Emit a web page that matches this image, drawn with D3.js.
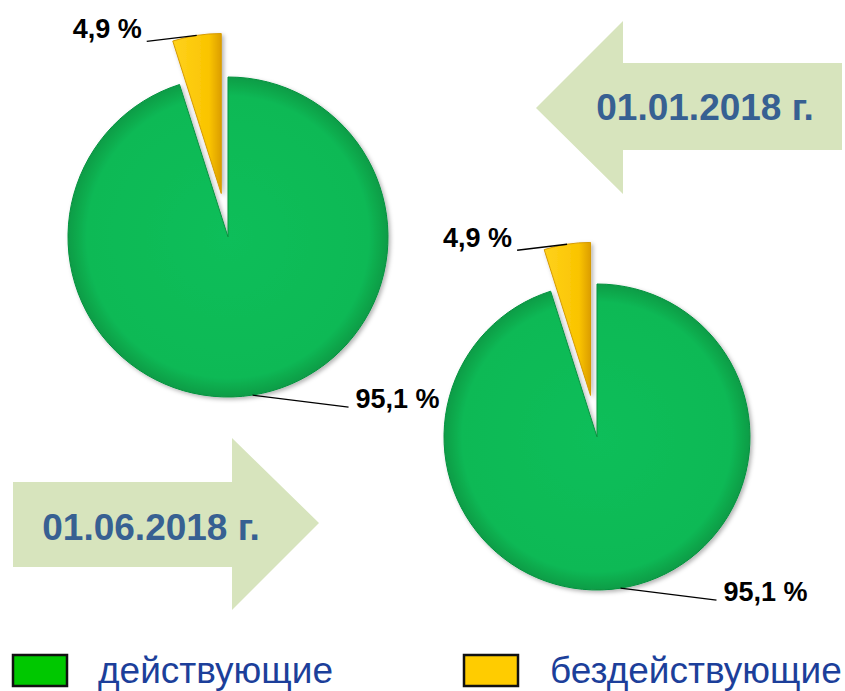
<!DOCTYPE html>
<html>
<head>
<meta charset="utf-8">
<script src="https://cdn.jsdelivr.net/npm/d3@7"></script>
<style>
  body { margin: 0; background: #fff; }
  svg { display: block; font-family: "Liberation Sans", Arial, sans-serif; }
</style>
</head>
<body>
<div id="chart"></div>
<script>
// data
var dates = ["01.01.2018 г.", "01.06.2018 г."];
var categories = ["действующие", "бездействующие"];
var shareJan = [95.1, 4.9];
var shareJun = [95.1, 4.9];

var width = 845,
  height = 691;

var pieColors = ["url(#greenGrad)", "url(#yellowGrad)"];
var legendColors = ["#00c800", "#ffcc00"];
var edgeColors = ["#07923f", "#d69a00"];

// layout of both pies
var pies = [
  {values: shareJan, cx: 228, cy: 237, r: 160},
  {values: shareJun, cx: 597, cy: 437, r: 153}
];

var ru = d3.formatLocale({decimal: ",", thousands: " ", grouping: [3], currency: ["", " ₽"]});
var fmt = ru.format(".1f");

var svg = d3.select("#chart").append("svg")
    .attr("width", width)
    .attr("height", height);

var defs = svg.append("defs");

var gGreen = defs.append("radialGradient")
    .attr("id", "greenGrad")
    .attr("cx", "50%").attr("cy", "50%").attr("r", "50%");
gGreen.append("stop").attr("offset", "0%").attr("stop-color", "#10be5a");
gGreen.append("stop").attr("offset", "88%").attr("stop-color", "#0cb955");
gGreen.append("stop").attr("offset", "100%").attr("stop-color", "#089c46");

var gYellow = defs.append("linearGradient")
    .attr("id", "yellowGrad")
    .attr("x1", "0%").attr("x2", "100%").attr("y1", "0%").attr("y2", "0%");
gYellow.append("stop").attr("offset", "0%").attr("stop-color", "#ffd21c");
gYellow.append("stop").attr("offset", "75%").attr("stop-color", "#fac400");
gYellow.append("stop").attr("offset", "100%").attr("stop-color", "#dc9e00");

var shadow = defs.append("filter").attr("id", "shadow")
    .attr("x", "-20%").attr("y", "-20%").attr("width", "140%").attr("height", "140%");
shadow.append("feDropShadow")
    .attr("dx", 2).attr("dy", 2).attr("stdDeviation", 2)
    .attr("flood-color", "#000").attr("flood-opacity", 0.3);

// arrows (background shapes)
var arrowFill = "#d7e4bd";
svg.append("path")
    .attr("d", "M536,108 L623,21 L623,63 L842,63 L842,150 L623,150 L623,194 Z")
    .attr("fill", arrowFill);
svg.append("path")
    .attr("d", "M13,482 L232,482 L232,438 L319,523 L232,610 L232,567 L13,567 Z")
    .attr("fill", arrowFill);

var dateLabels = [{x: 705, y: 120}, {x: 151, y: 540}];
svg.selectAll(".date")
    .data(dates)
  .enter().append("text")
    .attr("class", "date")
    .attr("x", function(d, i) { return dateLabels[i].x; })
    .attr("y", function(d, i) { return dateLabels[i].y; })
    .attr("text-anchor", "middle")
    .attr("font-size", 37)
    .attr("font-weight", "bold")
    .attr("fill", "#376092")
    .text(function(d) { return d; });

var pie = d3.pie().sort(null).value(function(d) { return d; });

pies.forEach(function(p) {
  var arcs = pie(p.values);
  var explode = 0.275 * p.r;
  var arc = d3.arc().innerRadius(0).outerRadius(p.r);
  var outer = d3.arc().innerRadius(p.r).outerRadius(p.r);

  var g = svg.append("g")
      .attr("transform", "translate(" + p.cx + "," + p.cy + ")");

  // shift for exploded slice (the small one)
  function shift(d, i) {
    if (i === 0) return [0, 0];
    var mid = (d.startAngle + d.endAngle) / 2;
    return [Math.sin(mid) * explode, -Math.cos(mid) * explode];
  }

  g.selectAll(".slice")
      .data(arcs)
    .enter().append("path")
      .attr("class", "slice")
      .attr("transform", function(d, i) { var s = shift(d, i); return "translate(" + s[0] + "," + s[1] + ")"; })
      .attr("d", arc)
      .attr("fill", function(d, i) { return pieColors[i]; })
      .attr("stroke", function(d, i) { return edgeColors[i]; })
      .attr("stroke-width", 1)
      .attr("filter", "url(#shadow)");

  // leader lines and labels
  arcs.forEach(function(d, i) {
    var s = shift(d, i);
    var c = outer.centroid(d);
    var start = [c[0] + s[0], c[1] + s[1]];
    var end = i === 0 ? [start[0] + 96, start[1] + 12] : [start[0] - 50, start[1] + 6];
    g.append("path")
        .attr("d", d3.line()([start, end]))
        .attr("stroke", "#000")
        .attr("stroke-width", 1.3)
        .attr("fill", "none");
    g.append("text")
        .attr("x", i === 0 ? end[0] + 7 : end[0] - 5)
        .attr("y", i === 0 ? end[1] + 1 : end[1] - 3)
        .attr("text-anchor", i === 0 ? "start" : "end")
        .attr("font-size", 27)
        .attr("font-weight", "bold")
        .attr("fill", "#000")
        .text(fmt(d.data) + " %");
  });
});

// legend
var legendPos = [{x: 13, tx: 98}, {x: 464, tx: 550}];
var legend = svg.selectAll(".legend")
    .data(categories)
  .enter().append("g")
    .attr("class", "legend");

legend.append("rect")
    .attr("x", function(d, i) { return legendPos[i].x; })
    .attr("y", 655)
    .attr("width", 54)
    .attr("height", 31)
    .attr("fill", function(d, i) { return legendColors[i]; })
    .attr("stroke", "#111")
    .attr("stroke-width", 2.5);

legend.append("text")
    .attr("x", function(d, i) { return legendPos[i].tx; })
    .attr("y", 683)
    .attr("font-size", 37)
    .attr("fill", "#1c3f9a")
    .text(function(d) { return d; });
</script>
</body>
</html>
